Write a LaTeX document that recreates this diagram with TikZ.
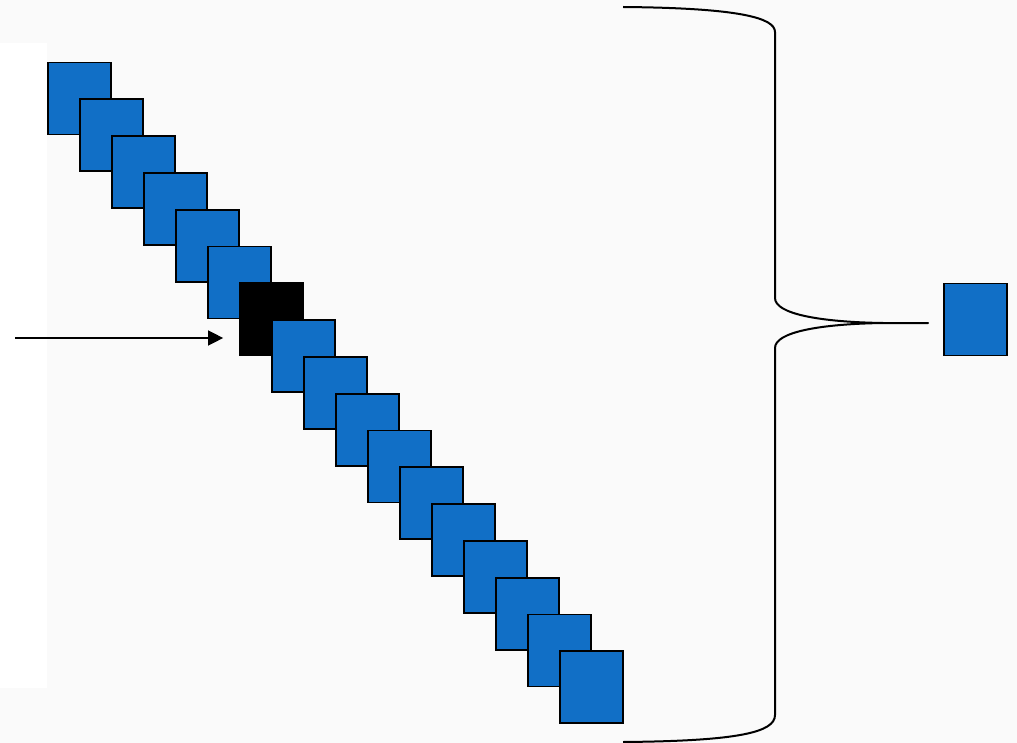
\documentclass[tikz,border=0pt]{standalone}
\usepackage{tikz}
\usetikzlibrary{positioning,arrows.meta}
\usepackage{xcolor}
\definecolor{tileblue}{RGB}{17,111,198}
\definecolor{paper}{RGB}{250,250,250}

\begin{document}
\begin{tikzpicture}[x=1pt, y=-1pt, >={Triangle[length=15pt, width=15pt]},
  tile/.style={draw, line width=1.7pt, fill=tileblue, inner sep=0pt, minimum width=63pt, minimum height=72pt},
  hot/.style={tile, fill=black},
  brace/.style={draw, line width=2pt, line join=round}]
\useasboundingbox[fill=paper] (0,0) rectangle (1017,743);
\fill[white] (0,43) rectangle (47,688);
% diagonal stack of tiles, the 7th one marked
\foreach \i in {0,...,16} {
  \ifnum\i=6
    \node[hot] (sq\i) at (79.5+32*\i, 98.5+36.8*\i) {};
  \else
    \node[tile] (sq\i) at (79.5+32*\i, 98.5+36.8*\i) {};
  \fi
}
\coordinate (src) at (15,338);
\draw[->, line width=1.4pt, shorten >=16pt] (src) -- (src -| sq6.west);
% brace gathering the stack
\coordinate (tip) at (928,323);
\draw[brace] (623,7) .. controls (740,8) and (775,18) .. (775,32) -- (775,298)
  .. controls (775,314) and (820,322) .. (883,323) -- (tip)
  -- (883,323) .. controls (820,324) and (775,332) .. (775,348) -- (775,715)
  .. controls (775,732) and (740,741) .. (623,742);
\node[tile, right=15pt of tip, yshift=3.5pt] (out) {};
\end{tikzpicture}
\end{document}
